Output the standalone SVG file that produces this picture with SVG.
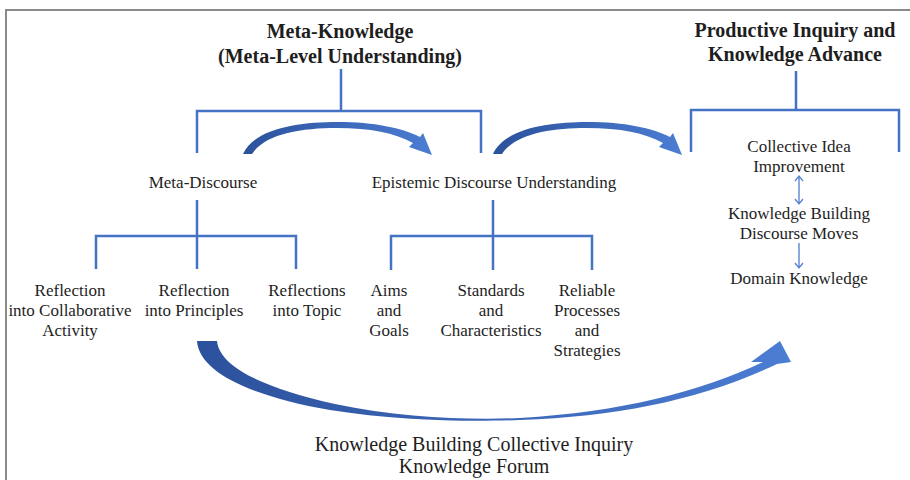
<svg xmlns="http://www.w3.org/2000/svg" width="910" height="480" viewBox="0 0 910 480">
  <defs>
    <style>
      text { font-family: "Liberation Serif", "Times New Roman", serif; fill: #1e1e1e; text-anchor: middle; }
      .title { font-size: 20px; font-weight: bold; }
      .body { font-size: 17px; }
      .foot { font-size: 20px; }
      .tree { fill: none; stroke: #4472C4; stroke-width: 2.5; }
      .thin { fill: none; stroke: #5B86D0; stroke-width: 1.4; }
      .frame { fill: none; stroke: #8a8a8a; stroke-width: 2; }
    </style>
    <linearGradient id="bigGrad" gradientUnits="userSpaceOnUse" x1="197" y1="0" x2="791" y2="0">
      <stop offset="0" stop-color="#2C519C"/>
      <stop offset="1" stop-color="#4B7DD3"/>
    </linearGradient>
    <linearGradient id="smallGrad" x1="0" y1="0" x2="1" y2="0">
      <stop offset="0" stop-color="#2C519C"/>
      <stop offset="1" stop-color="#4B7DD3"/>
    </linearGradient>
    <!-- curved block arrow used twice along the top -->
    <path id="arcArrow" d="M243,154 C255,128 300,122 337,122 C375,122 402,128 420,137 L423,133 L432,155 L409,147 L413,143 C395,133 370,128 337,128 C300,128 265,134 252,154 Z"/>
  </defs>

  <!-- frame edges -->
  <path class="frame" d="M6,10 H910 M6,9 V480"/>

  <!-- connectors -->
  <g id="connectors">
    <!-- Meta-Knowledge bracket -->
    <path class="tree" d="M341,69 V111 M197,153 V111 H481 V153"/>
    <!-- Productive Inquiry bracket -->
    <path class="tree" d="M796,71 V110 M691,152 V110 H899 V152"/>
    <!-- Meta-Discourse bracket -->
    <path class="tree" d="M197,200 V269 M96,269 V236 H296 V269"/>
    <!-- Epistemic Discourse bracket -->
    <path class="tree" d="M493,200 V270 M391,270 V236 H592 V270"/>
    <!-- small links in the right column -->
    <path class="thin" d="M799,176 V204 M795,181 L799,176 L803,181 M795,199 L799,204 L803,199"/>
    <path class="thin" d="M799,243 V268 M795,263 L799,268 L803,263"/>
    <!-- curved arrows -->
    <use href="#arcArrow" fill="url(#smallGrad)"/>
    <use href="#arcArrow" fill="url(#smallGrad)" transform="translate(250,0)"/>
    <path fill="url(#bigGrad)" d="M197,341 C199,372 250,396 330,410 C400,421 470,422 520,420 C620,416 700,400 777,364 L791,362 L780,341 L751,362 L763,362 C700,392 620,412 520,418 C470,420 400,418 335,404 C265,388 220,368 217,341 Z"/>
  </g>

  <g id="meta-knowledge">
    <text class="title" x="340" y="38">Meta-Knowledge</text>
    <text class="title" x="340" y="63">(Meta-Level Understanding)</text>
  </g>
  <g id="productive-inquiry">
    <text class="title" x="795" y="37">Productive Inquiry and</text>
    <text class="title" x="795" y="61">Knowledge Advance</text>
  </g>

  <g id="meta-discourse">
    <text class="body" x="203" y="188">Meta-Discourse</text>
  </g>
  <g id="epistemic-discourse">
    <text class="body" x="494" y="188">Epistemic Discourse Understanding</text>
  </g>

  <g id="reflection-collaborative">
    <text class="body" x="70" y="296">Reflection</text>
    <text class="body" x="70" y="316">into Collaborative</text>
    <text class="body" x="70" y="336">Activity</text>
  </g>
  <g id="reflection-principles">
    <text class="body" x="194" y="296">Reflection</text>
    <text class="body" x="194" y="316">into Principles</text>
  </g>
  <g id="reflection-topic">
    <text class="body" x="307" y="296">Reflections</text>
    <text class="body" x="307" y="316">into Topic</text>
  </g>

  <g id="aims-goals">
    <text class="body" x="389" y="296">Aims</text>
    <text class="body" x="389" y="316">and</text>
    <text class="body" x="389" y="336">Goals</text>
  </g>
  <g id="standards">
    <text class="body" x="491" y="296">Standards</text>
    <text class="body" x="491" y="316">and</text>
    <text class="body" x="491" y="336">Characteristics</text>
  </g>
  <g id="reliable-processes">
    <text class="body" x="587" y="296">Reliable</text>
    <text class="body" x="587" y="316">Processes</text>
    <text class="body" x="587" y="336">and</text>
    <text class="body" x="587" y="356">Strategies</text>
  </g>

  <g id="idea-improvement">
    <text class="body" x="799" y="152">Collective Idea</text>
    <text class="body" x="799" y="172">Improvement</text>
  </g>
  <g id="discourse-moves">
    <text class="body" x="799" y="219">Knowledge Building</text>
    <text class="body" x="799" y="239">Discourse Moves</text>
  </g>
  <g id="domain-knowledge">
    <text class="body" x="799" y="284">Domain Knowledge</text>
  </g>

  <g id="collective-inquiry">
    <text class="foot" x="474" y="451">Knowledge Building Collective Inquiry</text>
    <text class="foot" x="474" y="473">Knowledge Forum</text>
  </g>
</svg>
